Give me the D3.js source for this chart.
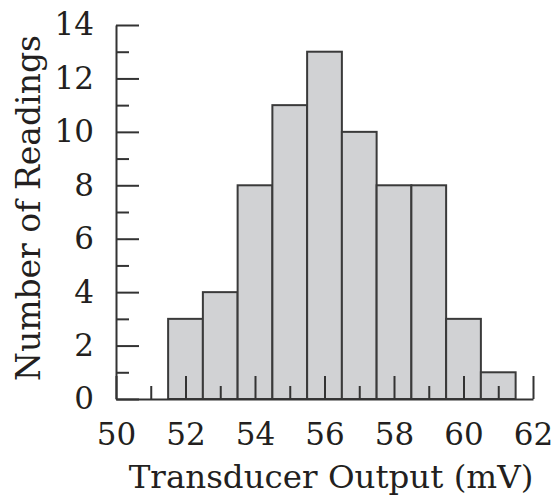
<!DOCTYPE html>
<html>
<head>
<meta charset="utf-8">
<script src="https://cdn.jsdelivr.net/npm/d3@7"></script>
<style>
  body { margin: 0; background: #fff; }
  svg text { font-family: "DejaVu Serif", "Liberation Serif", serif; fill: #231f20; }
  .axis path, .axis line { stroke: #333; stroke-width: 2; }
</style>
</head>
<body>
<script>
// histogram of transducer readings, bins one mV wide centred on integers
var binCenters = [52, 53, 54, 55, 56, 57, 58, 59, 60, 61];
var counts = [3, 4, 8, 11, 13, 10, 8, 8, 3, 1];
var xTicks = [50, 51, 52, 53, 54, 55, 56, 57, 58, 59, 60, 61, 62];
var yTicks = [0, 1, 2, 3, 4, 5, 6, 7, 8, 9, 10, 11, 12, 13, 14];
var xLabel = 'Transducer Output (mV)';
var yLabel = 'Number of Readings';

var W = 558, H = 497;
var margin = {top: 25, right: 25, bottom: 98, left: 116};
var majorLen = 23, minorLen = 13;

var xScale = d3.scaleLinear().domain([50, 62]).range([margin.left, W - margin.right]);
var yScale = d3.scaleLinear().domain([0, 14]).range([H - margin.bottom, margin.top]);

var svg = d3.select('body').append('svg')
    .attr('width', W)
    .attr('height', H);

var data = binCenters.map(function (c, i) { return {x: c, n: counts[i]}; });

svg.selectAll('rect.bar')
  .data(data)
  .enter()
  .append('rect')
  .attr('class', 'bar')
  .attr('x', function (d) { return xScale(d.x - 0.5); })
  .attr('y', function (d) { return yScale(d.n); })
  .attr('width', function (d) { return xScale(d.x + 0.5) - xScale(d.x - 0.5); })
  .attr('height', function (d) { return yScale(0) - yScale(d.n); })
  .attr('fill', '#d1d2d4')
  .attr('stroke', '#3a3a3a')
  .attr('stroke-width', 2);

// even values get long ticks + labels, odd ones short ticks only
var isMajor = function (v) { return v % 2 === 0; };

var xAxis = svg.append('g')
  .attr('class', 'axis')
  .attr('transform', 'translate(0,' + yScale(0) + ')')
  .call(d3.axisBottom(xScale)
    .tickValues(xTicks)
    .tickSizeOuter(0)
    .tickPadding(18)
    .tickFormat(function (v) { return isMajor(v) ? v : ''; }));
xAxis.selectAll('.tick line')
  .attr('y2', function (v) { return isMajor(v) ? -majorLen : -minorLen; });
xAxis.selectAll('text').attr('font-size', 31).attr('fill', '#231f20')
  .style('font-family', '"DejaVu Serif", serif');

var yAxis = svg.append('g')
  .attr('class', 'axis')
  .attr('transform', 'translate(' + xScale(50) + ',0)')
  .call(d3.axisLeft(yScale)
    .tickValues(yTicks)
    .tickSizeOuter(0)
    .tickPadding(16)
    .tickFormat(function (v) { return isMajor(v) ? v : ''; }));
yAxis.selectAll('.tick line')
  .attr('x2', function (v) { return isMajor(v) ? majorLen : minorLen; });
yAxis.selectAll('text').attr('font-size', 31).attr('fill', '#231f20')
  .style('font-family', '"DejaVu Serif", serif');

svg.append('text')
  .attr('x', 331)
  .attr('y', 488)
  .attr('text-anchor', 'middle')
  .attr('font-size', 32.5)
  .text(xLabel);

svg.append('text')
  .attr('transform', 'translate(40,208) rotate(-90)')
  .attr('text-anchor', 'middle')
  .attr('font-size', 33)
  .text(yLabel);
</script>
</body>
</html>
